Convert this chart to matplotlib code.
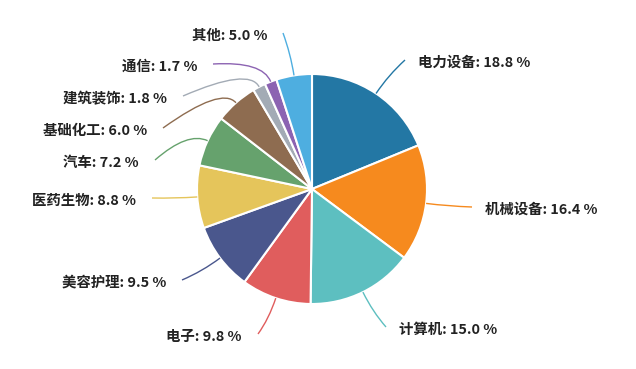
import numpy as np
import matplotlib
matplotlib.use("Agg")
import matplotlib.pyplot as plt
from matplotlib.path import Path
from matplotlib.patches import PathPatch

plt.rcParams['font.family'] = ['Noto Sans CJK SC', 'DejaVu Sans']

categories = ["电力设备", "机械设备", "计算机", "电子", "美容护理", "医药生物",
              "汽车", "基础化工", "建筑装饰", "通信", "其他"]
shares = [18.8, 16.4, 15.0, 9.8, 9.5, 8.8, 7.2, 6.0, 1.8, 1.7, 5.0]
colors = ["#2377a4", "#f68a1e", "#5dbfc0", "#e05d5d", "#4a578d", "#e5c55b",
          "#66a26d", "#8e6c50", "#a3abb5", "#8c63b2", "#4eaee0"]

# label anchor (end of leader line) in pixel coords (y down)
label_end = [(405, 60), (472, 207), (386, 327), (258, 334), (182, 280), (152, 198),
             (155, 160), (163, 128), (183, 96), (213, 64), (283, 33)]
W, H = 636, 369
cx, cy, R = 312, H - 189, 115

fig = plt.figure(figsize=(W / 100, H / 100), dpi=100)
ax = fig.add_axes([0, 0, 1, 1])

wedges, _ = ax.pie(shares, colors=colors, startangle=90, counterclock=False,
                   center=(cx, cy), radius=R,
                   wedgeprops=dict(edgecolor='white', linewidth=1.5))
ax.set_xlim(0, W)
ax.set_ylim(0, H)
ax.set_aspect('equal')
ax.axis('off')

for w, name, val, (ex, ey), col in zip(wedges, categories, shares, label_end, colors):
    mid = np.deg2rad((w.theta1 + w.theta2) / 2)
    p0 = (cx + R * np.cos(mid), cy + R * np.sin(mid))
    p1 = (cx + (R + 22) * np.cos(mid), cy + (R + 22) * np.sin(mid))
    p2 = (ex, H - ey)
    path = Path([p0, p1, p2], [Path.MOVETO, Path.CURVE3, Path.CURVE3])
    ax.add_patch(PathPatch(path, fc='none', ec=col, lw=1))
    right = ex > cx
    tx = ex + 13 if right else ex - 16
    ax.text(tx, H - ey - 3, f"{name}: {val:.1f} %", fontsize=10.4, fontweight='bold',
            color='#222222', ha='left' if right else 'right', va='center')

fig.savefig("out.png", dpi=100)
